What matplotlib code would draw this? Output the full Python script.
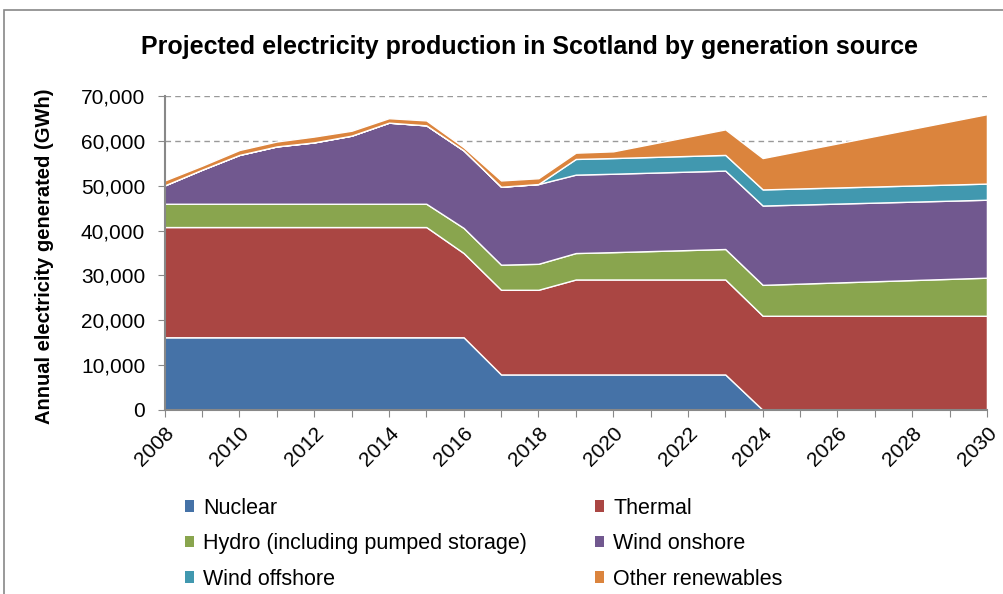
import matplotlib
matplotlib.use("Agg")
import matplotlib.pyplot as plt
from matplotlib.patches import Patch, Rectangle
from matplotlib.ticker import FuncFormatter, MultipleLocator

plt.rcParams["font.family"] = ["Liberation Sans", "DejaVu Sans"]

# anchor years of the projection (straight segments in between)
YEARS = [2008, 2009, 2010, 2011, 2012, 2013, 2014, 2015, 2016,
         2017, 2018, 2019, 2020, 2023, 2024, 2030]

# GWh per source
NUCLEAR = [16200, 16200, 16200, 16200, 16200, 16200, 16200, 16200, 16200,
           7900, 7900, 7900, 7900, 7900, 0, 0]
THERMAL = [24600, 24600, 24600, 24600, 24600, 24600, 24600, 24600, 18800,
           18900, 18900, 21200, 21200, 21200, 21000, 21000]
HYDRO = [5200, 5200, 5200, 5200, 5200, 5200, 5200, 5200, 5600,
         5600, 5800, 5900, 6100, 6800, 6900, 8500]
WIND_ONSHORE = [4100, 7600, 10900, 12800, 13700, 15200, 18100, 17500, 17300,
                17400, 17800, 17500, 17500, 17500, 17700, 17400]
WIND_OFFSHORE = [0, 0, 0, 0, 0, 0, 0, 0, 0,
                 0, 0, 3500, 3500, 3500, 3600, 3600]
OTHER = [1100, 900, 1100, 1100, 1300, 1100, 1000, 1100, 700,
         1400, 1300, 1400, 1500, 5700, 7000, 15500]

LABELS = ["Nuclear", "Thermal", "Hydro (including pumped storage)",
          "Wind onshore", "Wind offshore", "Other renewables"]
COLORS = ["#4572A7", "#AA4643", "#89A54E", "#71588F", "#4198AF", "#DB843D"]

fig = plt.figure(figsize=(10.04, 5.94), dpi=100)
ax = fig.add_axes([0.164, 0.310, 0.819, 0.528])

ax.stackplot(YEARS, NUCLEAR, THERMAL, HYDRO, WIND_ONSHORE, WIND_OFFSHORE, OTHER,
             colors=COLORS, edgecolor="white", linewidth=1.0, zorder=2)

ax.set_xlim(2008, 2030)
ax.set_ylim(0, 70000)
ax.set_xticks(range(2008, 2031))
ax.set_xticklabels([str(y) if y % 2 == 0 else "" for y in range(2008, 2031)],
                   rotation=45, ha="right", rotation_mode="anchor", fontsize=15)
ax.yaxis.set_major_locator(MultipleLocator(10000))
ax.yaxis.set_major_formatter(FuncFormatter(lambda v, p: f"{int(v):,}"))
ax.tick_params(axis="y", labelsize=15, length=5, color="#888888", pad=9)
ax.tick_params(axis="x", length=5, color="#888888", pad=5)

ax.grid(axis="y", linestyle=(0, (4, 3)), color="#999999", linewidth=1.0)
ax.set_axisbelow(True)
for side in ["top", "right"]:
    ax.spines[side].set_visible(False)
for side in ["left", "bottom"]:
    ax.spines[side].set_color("#888888")
    ax.spines[side].set_linewidth(1.5)

ax.set_ylabel("Annual electricity generated (GWh)", fontsize=14.5, fontweight="bold")
ax.yaxis.set_label_coords(-0.134, 0.49)
fig.text(0.527, 0.921, "Projected electricity production in Scotland by generation source",
         ha="center", va="center", fontsize=18, fontweight="bold")

handles = [Patch(facecolor=c, edgecolor="none") for c in COLORS]
order = [0, 2, 4, 1, 3, 5]
fig.legend([handles[i] for i in order], [LABELS[i] for i in order],
           loc="upper left", bbox_to_anchor=(0.184, 0.162), ncol=2, frameon=False,
           fontsize=15.5, handlelength=0.45, handleheight=0.45, handletextpad=0.4,
           columnspacing=3.15, labelspacing=0.67, borderaxespad=0, borderpad=0)

fig.patches.append(Rectangle((0.004, -0.05), 1.2, 0.983 + 0.05, fill=False,
                             edgecolor="#888888", linewidth=1.2,
                             transform=fig.transFigure))

fig.savefig("out.png", dpi=100)
